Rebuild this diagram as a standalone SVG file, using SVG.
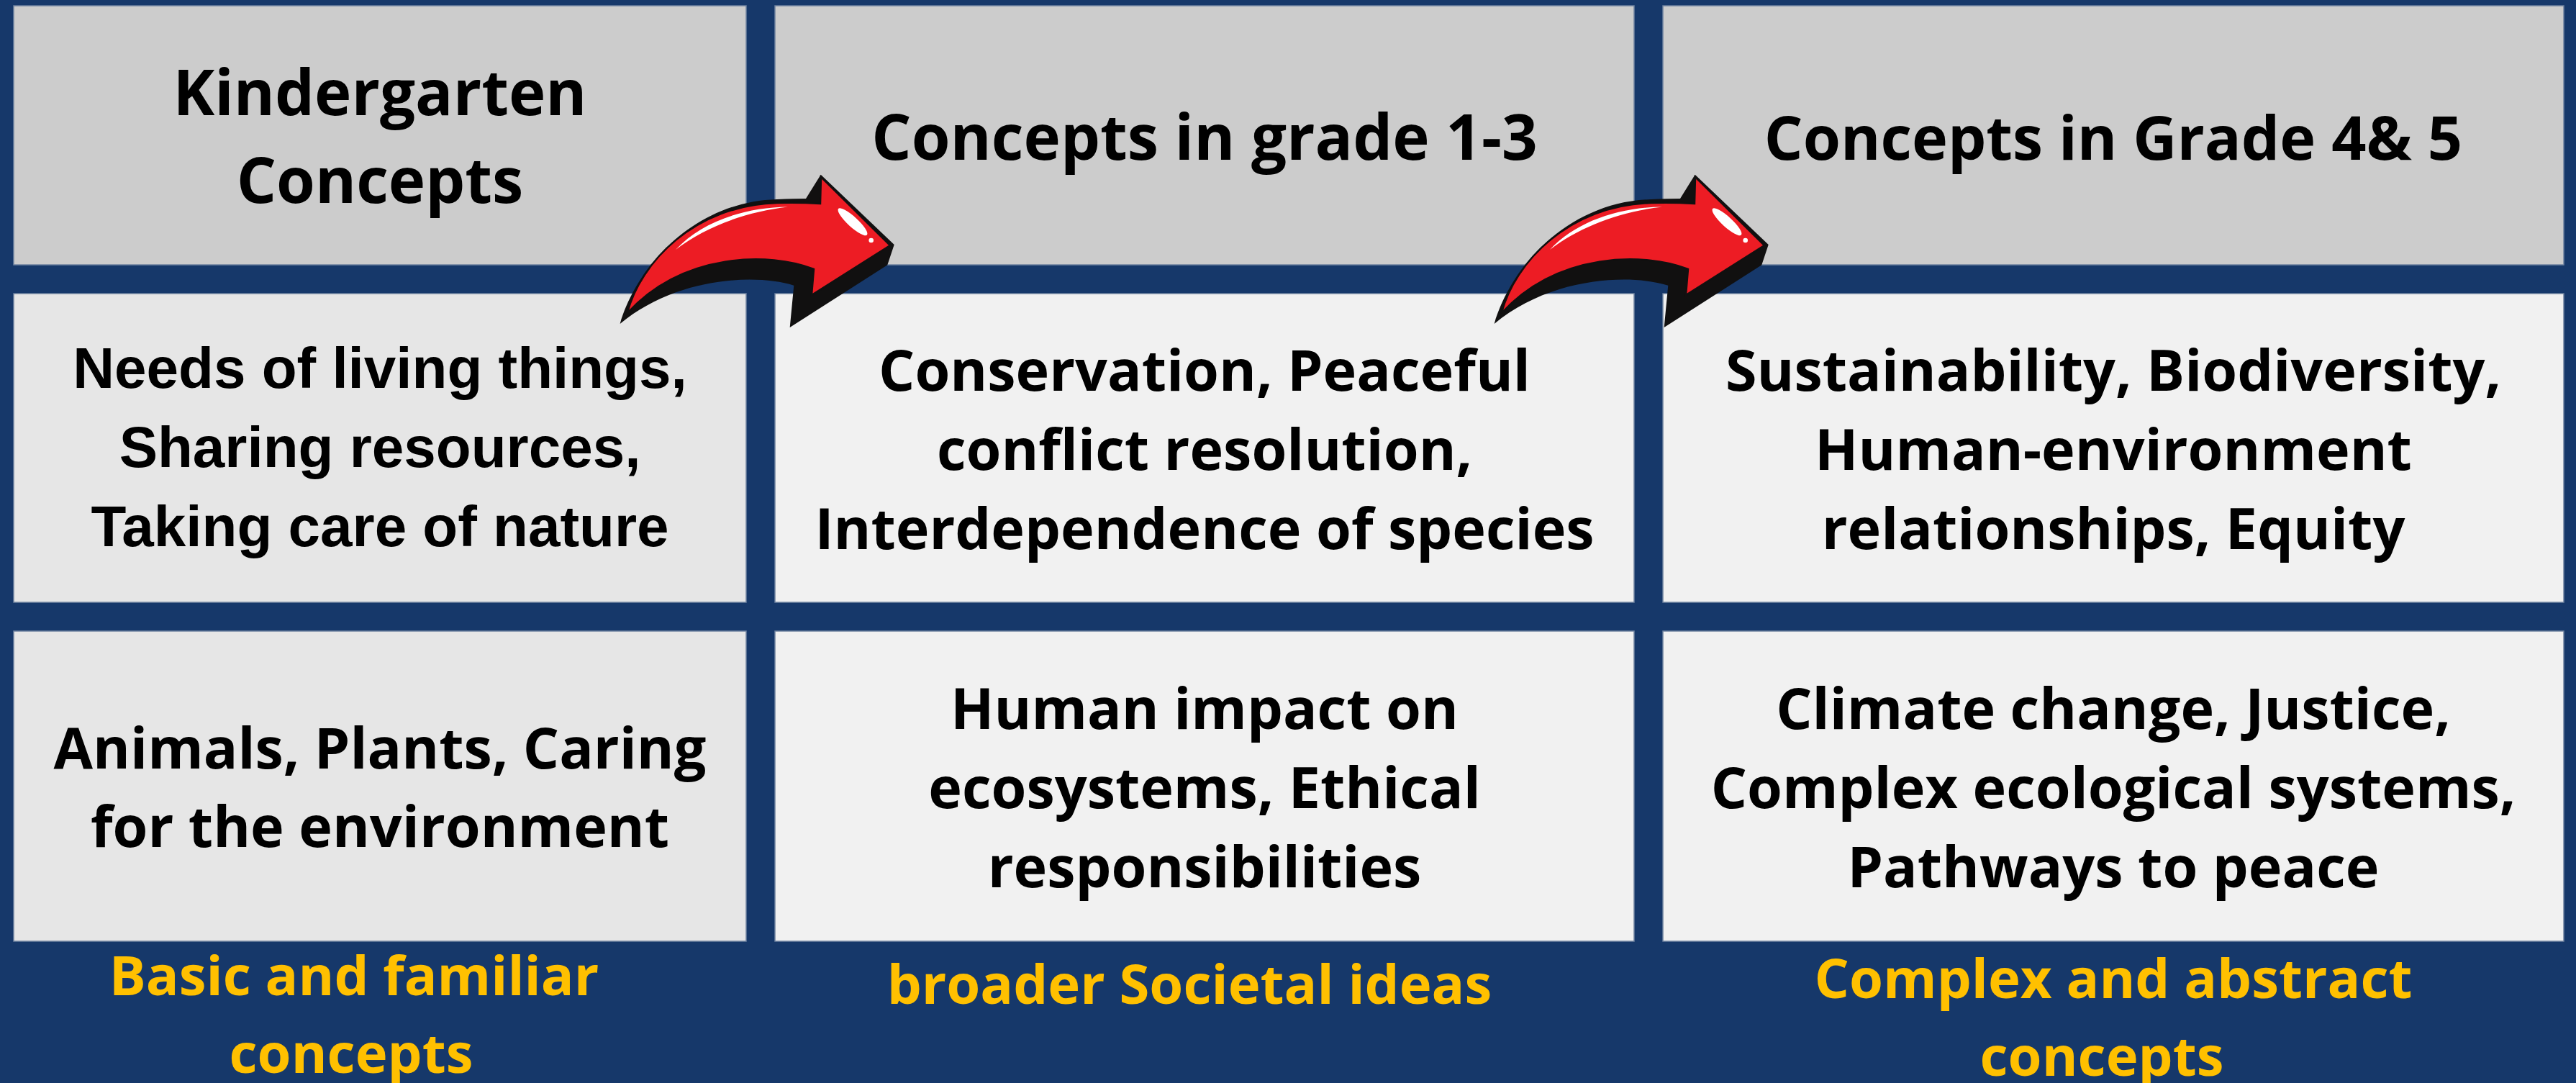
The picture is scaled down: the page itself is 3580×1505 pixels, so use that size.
<svg xmlns="http://www.w3.org/2000/svg" xmlns:xlink="http://www.w3.org/1999/xlink" width="3580" height="1505" viewBox="0 0 3580 1505">
<style>
.panel{stroke:#6f82a0;stroke-width:1.5}
.hdr{fill:#cccccc}
.k{fill:#e6e6e6}
.lt{fill:#f1f1f1}
.t{font-family:"Open Sans","Liberation Sans",sans-serif;font-weight:700;fill:#000;text-anchor:middle}
.h{font-size:87px}
.b{font-size:79px}
.a{font-family:"Liberation Sans",Arial,sans-serif;font-weight:700;font-size:80px;fill:#000;text-anchor:middle}
.y{font-family:"Open Sans","Liberation Sans",sans-serif;font-weight:700;font-size:76px;fill:#ffc000;text-anchor:middle}
</style>
<defs>
<g id="arrow">
<path d="M61.7,250 C85,170 165,80 280,77 Q305,76 320,76 L340.7,42.7 L442.7,140 L433.3,168.3 L297.7,255 L303.3,196.7 C250,180 140,185 61.7,250 Z" fill="#111010"/>
<path d="M71.7,235 C90,165 165,85 280,82 Q310,81 340,83 L341,46 L437,141 L328,210 L331,174 C270,150 150,150 71.7,235 Z" fill="#ed1c24" stroke="#111010" stroke-width="2.5" stroke-linejoin="miter"/>
<path d="M139,147 C175,108 235,88 295,87.5 C238,94 180,115 139,147 Z" fill="#ffffff"/>
<ellipse cx="385" cy="108.3" rx="27" ry="7" transform="rotate(42.5 385 108.3)" fill="#ffffff"/>
<circle cx="410.7" cy="134" r="3.3" fill="#ffffff"/>
</g>
</defs>
<rect x="0" y="0" width="3580" height="1505" fill="#16386a"/>

<g id="kindergarten-header">
<rect class="panel hdr" x="19" y="8" width="1018" height="360"/>
<text class="t h" x="528" y="160">Kindergarten</text>
<text class="t h" x="528" y="282">Concepts</text>
</g>
<g id="grade13-header">
<rect class="panel hdr" x="1077" y="8" width="1194" height="360"/>
<text class="t h" x="1674" y="222">Concepts in grade 1-3</text>
</g>
<g id="grade45-header">
<rect class="panel hdr" x="2311" y="8" width="1252" height="360"/>
<text class="t" x="2937" y="222" style="font-size:84.5px">Concepts in Grade 4&amp; 5</text>
</g>

<g id="kindergarten-row2">
<rect class="panel k" x="19" y="408" width="1018" height="429"/>
<text class="a" x="528" y="539">Needs of living things,</text>
<text class="a" x="528" y="649">Sharing resources,</text>
<text class="a" x="528" y="759">Taking care of nature</text>
</g>
<g id="grade13-row2">
<rect class="panel lt" x="1077" y="408" width="1194" height="429"/>
<text class="t b" x="1674" y="543">Conservation, Peaceful</text>
<text class="t b" x="1674" y="653">conflict resolution,</text>
<text class="t b" x="1674" y="763">Interdependence of species</text>
</g>
<g id="grade45-row2">
<rect class="panel lt" x="2311" y="408" width="1252" height="429"/>
<text class="t b" x="2937" y="543">Sustainability, Biodiversity,</text>
<text class="t b" x="2937" y="653">Human-environment</text>
<text class="t b" x="2937" y="763">relationships, Equity</text>
</g>

<g id="kindergarten-row3">
<rect class="panel k" x="19" y="877" width="1018" height="431"/>
<text class="t b" x="528" y="1068">Animals, Plants, Caring</text>
<text class="t b" x="528" y="1177">for the environment</text>
</g>
<g id="grade13-row3">
<rect class="panel lt" x="1077" y="877" width="1194" height="431"/>
<text class="t b" x="1674" y="1013">Human impact on</text>
<text class="t b" x="1674" y="1123">ecosystems, Ethical</text>
<text class="t b" x="1674" y="1233">responsibilities</text>
</g>
<g id="grade45-row3">
<rect class="panel lt" x="2311" y="877" width="1252" height="431"/>
<text class="t b" x="2937" y="1013">Climate change, Justice,</text>
<text class="t b" x="2937" y="1123">Complex ecological systems,</text>
<text class="t b" x="2937" y="1233">Pathways to peace</text>
</g>

<g id="kindergarten-summary">
<text class="y" x="492" y="1383">Basic and familiar</text>
<text class="y" x="488" y="1491">concepts</text>
</g>
<g id="grade13-summary">
<text class="y" x="1653" y="1395">broader Societal ideas</text>
</g>
<g id="grade45-summary">
<text class="y" x="2937" y="1387">Complex and abstract</text>
<text class="y" x="2921" y="1495">concepts</text>
</g>

<g id="connectors">
<use xlink:href="#arrow" href="#arrow" transform="translate(800,200)"/>
<use xlink:href="#arrow" href="#arrow" transform="translate(2015,200)"/>
</g>
</svg>
